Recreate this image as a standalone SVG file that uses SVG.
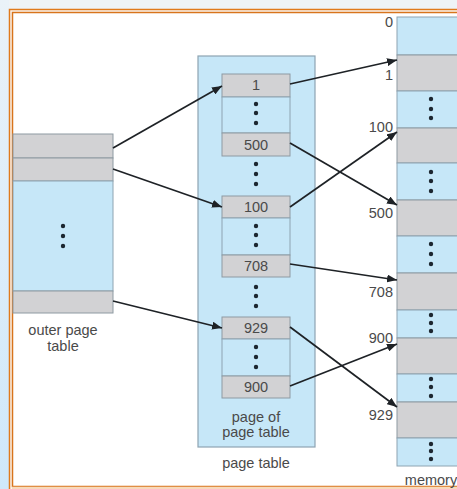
<svg xmlns="http://www.w3.org/2000/svg" width="457" height="489" viewBox="0 0 457 489">
<defs>
<linearGradient id="bgL" x1="0" y1="0" x2="0" y2="1">
<stop offset="0" stop-color="#eaf2f8"/>
<stop offset="1" stop-color="#cfe8fa"/>
</linearGradient>
<marker id="ah" markerUnits="userSpaceOnUse" markerWidth="11" markerHeight="8" refX="10" refY="4" orient="auto">
<path d="M0,0 L10,4 L0,8 z" fill="#1e2226"/>
</marker>
<style>
.blue{fill:#c6e7f8;stroke:#8ea4b2;stroke-width:1}
.gray{fill:#d2d2d4;stroke:#8e9aa2;stroke-width:1}
.ptbox{fill:#c6e7f8;stroke:#8ea4b2;stroke-width:1.2}
.dot{fill:#1c2630}
.t{font-family:"Liberation Sans",Arial,sans-serif;font-size:14.5px;fill:#4a4a4a}
.c{text-anchor:middle}
.r{text-anchor:end}
.conn line{stroke:#1e2226;stroke-width:1.7;marker-end:url(#ah)}
</style>
</defs>
<rect x="0" y="0" width="457" height="489" fill="#eef3f7"/>
<rect x="0" y="0" width="9" height="489" fill="url(#bgL)"/>
<g id="frame">
<rect x="9.5" y="9.5" width="470" height="490" fill="#fbf6f0" stroke="#e07a1c" stroke-width="1.5"/>
<rect x="12.5" y="12.5" width="470" height="474" fill="#ffffff" stroke="#d8741c" stroke-width="1.5"/>
<line x1="12" y1="488" x2="457" y2="488" stroke="#f7d9bb" stroke-width="2.5"/>
</g>
<g id="outer-page-table">
<rect class="gray" x="13" y="134" width="100" height="24"/>
<rect class="gray" x="13" y="158" width="100" height="23"/>
<rect class="blue" x="13" y="181" width="100" height="110"/>
<rect class="gray" x="13" y="291" width="100" height="22"/>
<circle class="dot" cx="63" cy="226" r="2.2"/>
<circle class="dot" cx="63" cy="236" r="2.2"/>
<circle class="dot" cx="63" cy="246" r="2.2"/>
<text class="t c" x="63" y="335">outer page</text>
<text class="t c" x="63" y="351">table</text>
</g>
<g id="page-table">
<rect class="ptbox" x="198" y="56" width="117" height="391"/>
<circle class="dot" cx="256" cy="164" r="2.2"/>
<circle class="dot" cx="256" cy="174" r="2.2"/>
<circle class="dot" cx="256" cy="184" r="2.2"/>
<circle class="dot" cx="256" cy="287" r="2.2"/>
<circle class="dot" cx="256" cy="296" r="2.2"/>
<circle class="dot" cx="256" cy="306" r="2.2"/>
<text class="t c" x="256" y="422">page of</text>
<text class="t c" x="256" y="437">page table</text>
<text class="t c" x="256" y="468">page table</text>
</g>
<g id="pt-block1">
<rect class="gray" x="222" y="74" width="68" height="23"/>
<rect class="blue" x="222" y="97" width="68" height="36"/>
<rect class="gray" x="222" y="133" width="68" height="23"/>
<circle class="dot" cx="256" cy="104" r="2.2"/>
<circle class="dot" cx="256" cy="113" r="2.2"/>
<circle class="dot" cx="256" cy="123" r="2.2"/>
<text class="t c" x="256" y="90">1</text>
<text class="t c" x="256" y="150">500</text>
</g>
<g id="pt-block2">
<rect class="gray" x="222" y="196" width="68" height="22"/>
<rect class="blue" x="222" y="218" width="68" height="37"/>
<rect class="gray" x="222" y="255" width="68" height="22"/>
<circle class="dot" cx="256" cy="226" r="2.2"/>
<circle class="dot" cx="256" cy="235" r="2.2"/>
<circle class="dot" cx="256" cy="245" r="2.2"/>
<text class="t c" x="256" y="212">100</text>
<text class="t c" x="256" y="271">708</text>
</g>
<g id="pt-block3">
<rect class="gray" x="222" y="317" width="68" height="22"/>
<rect class="blue" x="222" y="339" width="68" height="37"/>
<rect class="gray" x="222" y="376" width="68" height="22"/>
<circle class="dot" cx="256" cy="347" r="2.2"/>
<circle class="dot" cx="256" cy="357" r="2.2"/>
<circle class="dot" cx="256" cy="367" r="2.2"/>
<text class="t c" x="256" y="333">929</text>
<text class="t c" x="256" y="392">900</text>
</g>
<g id="memory">
<rect class="blue" x="397" y="17" width="72" height="38"/>
<rect class="gray" x="397" y="55" width="72" height="36"/>
<rect class="blue" x="397" y="91" width="72" height="37"/>
<rect class="gray" x="397" y="128" width="72" height="35"/>
<rect class="blue" x="397" y="163" width="72" height="37"/>
<rect class="gray" x="397" y="200" width="72" height="36"/>
<rect class="blue" x="397" y="236" width="72" height="37"/>
<rect class="gray" x="397" y="273" width="72" height="37"/>
<rect class="blue" x="397" y="310" width="72" height="28"/>
<rect class="gray" x="397" y="338" width="72" height="36"/>
<rect class="blue" x="397" y="374" width="72" height="28"/>
<rect class="gray" x="397" y="402" width="72" height="36"/>
<rect class="blue" x="397" y="438" width="72" height="28"/>
<circle class="dot" cx="431" cy="99" r="2.2"/>
<circle class="dot" cx="431" cy="109" r="2.2"/>
<circle class="dot" cx="431" cy="118" r="2.2"/>
<circle class="dot" cx="431" cy="172" r="2.2"/>
<circle class="dot" cx="431" cy="181" r="2.2"/>
<circle class="dot" cx="431" cy="191" r="2.2"/>
<circle class="dot" cx="431" cy="244" r="2.2"/>
<circle class="dot" cx="431" cy="254" r="2.2"/>
<circle class="dot" cx="431" cy="264" r="2.2"/>
<circle class="dot" cx="431" cy="315" r="2.2"/>
<circle class="dot" cx="431" cy="323" r="2.2"/>
<circle class="dot" cx="431" cy="331" r="2.2"/>
<circle class="dot" cx="431" cy="379" r="2.2"/>
<circle class="dot" cx="431" cy="387" r="2.2"/>
<circle class="dot" cx="431" cy="396" r="2.2"/>
<circle class="dot" cx="431" cy="444" r="2.2"/>
<circle class="dot" cx="431" cy="451" r="2.2"/>
<circle class="dot" cx="431" cy="459" r="2.2"/>
<text class="t r" x="393" y="27">0</text>
<text class="t r" x="393" y="80">1</text>
<text class="t r" x="393" y="132">100</text>
<text class="t r" x="393" y="218">500</text>
<text class="t r" x="393" y="297">708</text>
<text class="t r" x="393" y="343">900</text>
<text class="t r" x="393" y="420">929</text>
<text class="t c" x="431" y="485">memory</text>
</g>
<g id="connectors" class="conn">
<line x1="113" y1="148" x2="222" y2="86"/>
<line x1="113" y1="169" x2="222" y2="207"/>
<line x1="113" y1="301" x2="222" y2="328"/>
<line x1="290" y1="84" x2="397" y2="60"/>
<line x1="290" y1="143" x2="397" y2="205"/>
<line x1="290" y1="207" x2="397" y2="132"/>
<line x1="290" y1="264" x2="397" y2="280"/>
<line x1="290" y1="327" x2="397" y2="407"/>
<line x1="290" y1="386" x2="397" y2="344"/>
</g>
</svg>
